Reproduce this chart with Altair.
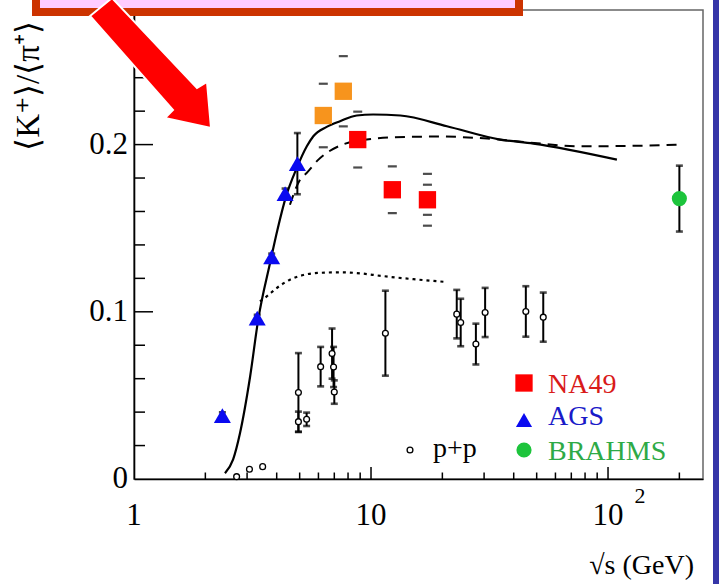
import altair as alt
import pandas as pd

# ---------------- data ----------------
# model curves
solid_x = [2.42, 2.62, 2.80, 3.09, 3.35, 3.75, 4.03, 4.38, 4.86, 5.36, 5.71, 6.50, 7.40, 8.71, 10.2, 13.3, 20.9, 35.0, 48.4, 109]
solid_y = [0.0034, 0.0118, 0.0274, 0.0613, 0.0962, 0.1292, 0.1491, 0.1690, 0.1860, 0.1990, 0.2050, 0.2106, 0.2140, 0.2174, 0.2180, 0.2174, 0.2110, 0.2030, 0.2006, 0.1910]
dash_x = [4.55, 5.02, 5.35, 6.0, 7.40, 9.6, 12.4, 19.5, 30.9, 46.9, 76.2, 146, 201]
dash_y = [0.164, 0.179, 0.183, 0.191, 0.1994, 0.203, 0.2044, 0.2048, 0.2036, 0.2012, 0.1990, 0.1994, 0.2000]
dot_x = [3.40, 3.63, 4.0, 4.55, 5.18, 6.09, 7.5, 9.0, 11.0, 15.1, 20.9]
dot_y = [0.1062, 0.1092, 0.1142, 0.1192, 0.1220, 0.1233, 0.1236, 0.1230, 0.1215, 0.1195, 0.1178]

# AGS
ags_x = [2.36, 3.31, 3.81, 4.34, 4.89]
ags_y = [0.0379, 0.0962, 0.1328, 0.1707, 0.1886]
ags_err = [0.002, 0.002, 0.002, 0.003, 0.0183]

# NA49 (red) and NA49 new energies (orange)
na49_x = [8.79, 12.3, 17.3]
na49_y = [0.203, 0.173, 0.167]
na49_err = [0.0167, 0.014, 0.0155]
na49_err2 = [0.0, 0.0, 0.009]
na49o_x = [6.29, 7.64]
na49o_y = [0.2174, 0.2319]
na49o_err = [0.019, 0.021]

# BRAHMS
brahms_x = [200]
brahms_y = [0.1677]
brahms_err = [0.0197]

# p+p
pp_x = [2.71, 3.07, 3.49, 4.94, 4.94, 5.35, 6.13, 6.85, 6.95, 7.0, 11.5, 23.0, 23.9, 27.7, 30.3, 45.0, 53.3]
pp_y = [0.0014, 0.0058, 0.0074, 0.0517, 0.0343, 0.0357, 0.0672, 0.075, 0.067, 0.052, 0.0872, 0.0986, 0.0936, 0.0807, 0.0996, 0.1002, 0.0968]
pp_err = [0, 0, 0, 0.0236, 0.006, 0.004, 0.0118, 0.015, 0.012, 0.007, 0.0254, 0.0145, 0.0142, 0.0122, 0.0147, 0.0151, 0.0147]

# ticks and labels
xtick_major = [10, 100]
xtick_minor = [2, 3, 4, 5, 6, 7, 8, 9, 20, 30, 40, 50, 60, 70, 80, 90, 200]
ytick_major = [0.1, 0.2]
ytick_minor = [0.02, 0.04, 0.06, 0.08, 0.12, 0.14, 0.16, 0.18, 0.22, 0.24, 0.26]
xlab_vals = [1, 10, 100]
xlab_text = ["1", "10", "10"]
ylab_vals = [0, 0.1, 0.2]
ylab_text = ["0", "0.1", "0.2"]

# ---------------- chart ----------------
W, H = 569, 469
FONT = "Liberation Serif"
xs = alt.Scale(type="log", domain=[1, 251.6], nice=False)
ys = alt.Scale(domain=[0, 0.2805], nice=False, zero=False)
AX = alt.Axis(labels=False, ticks=False, grid=False, domainColor="black", domainWidth=1.6)


def X(f):
    return alt.X(f"{f}:Q", scale=xs, axis=AX, title=None)


def Y(f):
    return alt.Y(f"{f}:Q", scale=ys, axis=AX, title=None)


def df(**kw):
    return pd.DataFrame(kw)


one = df(a=[0])

solid = alt.Chart(df(x=solid_x, y=solid_y)).mark_line(color="black", strokeWidth=2.2, interpolate="monotone").encode(x=X("x"), y=Y("y"))
dashed = alt.Chart(df(x=dash_x, y=dash_y)).mark_line(color="black", strokeWidth=2, strokeDash=[10, 7], interpolate="monotone").encode(x=X("x"), y=Y("y"))
dotted = alt.Chart(df(x=dot_x, y=dot_y)).mark_line(color="black", strokeWidth=2.2, strokeDash=[3, 4], interpolate="monotone").encode(x=X("x"), y=Y("y"))


def errbars(xv, yv, ev, cap=7):
    d = df(x=xv, y=yv, err=ev)
    d["lo"] = d["y"] - d["err"]
    d["hi"] = d["y"] + d["err"]
    d = d[d["err"] > 0]
    caps = pd.concat([d[["x", "lo"]].rename(columns={"lo": "c"}), d[["x", "hi"]].rename(columns={"hi": "c"})])
    bar = alt.Chart(d).mark_rule(color="black", strokeWidth=2).encode(x=X("x"), y=Y("lo"), y2="hi")
    cp = alt.Chart(caps).mark_tick(color="black", orient="horizontal", size=cap, thickness=2.6).encode(x=X("x"), y=Y("c"))
    return bar + cp


def dashes(xv, yv, ev):
    d = df(x=xv, y=yv, err=ev)
    d = d[d["err"] > 0]
    caps = pd.concat([
        pd.DataFrame({"x": d["x"], "c": d["y"] - d["err"]}),
        pd.DataFrame({"x": d["x"], "c": d["y"] + d["err"]}),
    ])
    return alt.Chart(caps).mark_tick(color="black", orient="horizontal", size=9, thickness=2.2).encode(x=X("x"), y=Y("c"))


pp_err_l = errbars(pp_x, pp_y, pp_err)
ags_err_l = errbars(ags_x, ags_y, ags_err)
br_err_l = errbars(brahms_x, brahms_y, brahms_err)
na_d1 = dashes(na49_x, na49_y, na49_err)
na_d2 = dashes(na49_x, na49_y, na49_err2)
na_d3 = dashes(na49o_x, na49o_y, na49o_err)

pp_pts = alt.Chart(df(x=pp_x, y=pp_y)).mark_point(shape="circle", size=34, fill="white", stroke="black", strokeWidth=1.3, filled=False, opacity=1, fillOpacity=1).encode(x=X("x"), y=Y("y"))
ags_pts = alt.Chart(df(x=ags_x, y=ags_y)).mark_point(shape="triangle-up", size=290, filled=True, color="#0A0AF0", opacity=1).encode(x=X("x"), y=Y("y"))
na_pts = alt.Chart(df(x=na49_x, y=na49_y)).mark_point(shape="square", size=300, filled=True, color="#FF0000", opacity=1).encode(x=X("x"), y=Y("y"))
nao_pts = alt.Chart(df(x=na49o_x, y=na49o_y)).mark_point(shape="square", size=300, filled=True, color="#F7941D", opacity=1).encode(x=X("x"), y=Y("y"))
br_pts = alt.Chart(df(x=brahms_x, y=brahms_y)).mark_point(shape="circle", size=230, filled=True, color="#1DC43C", opacity=1).encode(x=X("x"), y=Y("y"))

# inward ticks
xt_major = alt.Chart(df(v=xtick_major)).mark_rule(color="black", strokeWidth=1.5).encode(x=X("v"), y=alt.value(H), y2=alt.value(H - 12))
xt_minor = alt.Chart(df(v=xtick_minor)).mark_rule(color="black", strokeWidth=1.5).encode(x=X("v"), y=alt.value(H), y2=alt.value(H - 6.5))
yt_major = alt.Chart(df(v=ytick_major)).mark_rule(color="black", strokeWidth=1.5).encode(y=Y("v"), x=alt.value(0), x2=alt.value(19))
yt_minor = alt.Chart(df(v=ytick_minor)).mark_rule(color="black", strokeWidth=1.5).encode(y=Y("v"), x=alt.value(0), x2=alt.value(11))

# tick labels
ylabs = alt.Chart(df(v=ylab_vals, t=ylab_text)).mark_text(font=FONT, fontSize=31, align="right", baseline="middle", color="black").encode(y=Y("v"), x=alt.value(-6), text="t:N")
xlabs = alt.Chart(df(v=xlab_vals, t=xlab_text)).mark_text(font=FONT, fontSize=31, align="center", baseline="alphabetic", color="black").encode(x=X("v"), y=alt.value(515), text="t:N")
xsup = alt.Chart(df(v=[100], t=["2"])).mark_text(font=FONT, fontSize=22, align="center", baseline="alphabetic", color="black", dx=32).encode(x=X("v"), y=alt.value(493), text="t:N")

# titles
xtitle = alt.Chart(one).mark_text(text="√s (GeV)", font=FONT, fontSize=28, align="right", baseline="alphabetic", color="black").encode(x=alt.value(560), y=alt.value(564))
ytitle = alt.Chart(one).mark_text(text="⟨K⁺⟩/⟨π⁺⟩", font=FONT, fontSize=33, angle=270, align="center", baseline="middle", color="black").encode(x=alt.value(-105), y=alt.value(76))

# legend
leg_sym = [
    alt.Chart(one).mark_point(shape="square", size=300, filled=True, color="#FF0000", opacity=1).encode(x=alt.value(390), y=alt.value(373)),
    alt.Chart(one).mark_point(shape="triangle-up", size=260, filled=True, color="#0A0AF0", opacity=1).encode(x=alt.value(390), y=alt.value(410)),
    alt.Chart(one).mark_point(shape="circle", size=230, filled=True, color="#1DC43C", opacity=1).encode(x=alt.value(390), y=alt.value(440)),
    alt.Chart(one).mark_point(shape="circle", size=34, fill="white", stroke="black", strokeWidth=1.3, opacity=1, fillOpacity=1).encode(x=alt.value(276), y=alt.value(440)),
]
leg_txt = [
    alt.Chart(one).mark_text(text="NA49", font=FONT, fontSize=28, align="left", baseline="alphabetic", color="#D91A1A").encode(x=alt.value(414), y=alt.value(383)),
    alt.Chart(one).mark_text(text="AGS", font=FONT, fontSize=28, align="left", baseline="alphabetic", color="#1A1AC8").encode(x=alt.value(414), y=alt.value(415)),
    alt.Chart(one).mark_text(text="BRAHMS", font=FONT, fontSize=28, align="left", baseline="alphabetic", color="#2EAA46").encode(x=alt.value(414), y=alt.value(450)),
    alt.Chart(one).mark_text(text="p+p", font=FONT, fontSize=28, align="left", baseline="alphabetic", color="black").encode(x=alt.value(299), y=alt.value(447)),
]

# decorations: pink banner, red arrow, blue side strip
banner = alt.Chart(one).mark_rect(fill="#FFCCFF", stroke="#CC3300", strokeWidth=8).encode(
    x=alt.value(-98), x2=alt.value(385), y=alt.value(-40), y2=alt.value(2))
ARROW = "M-44,6 L39,100 L31,108 L77,118 L73,72 L63,78 L-22,-12 Z"
arrow = alt.Chart(one).mark_point(shape=ARROW, size=4, filled=True, fill="#FF0000", stroke="white", strokeWidth=2, opacity=1, fillOpacity=1).encode(
    x=alt.value(0), y=alt.value(0))
strip = alt.Chart(one).mark_rect(fill="#3535A8").encode(x=alt.value(579), x2=alt.value(590), y=alt.value(-20), y2=alt.value(600))

chart = alt.layer(
    solid, dashed, dotted,
    xt_major, xt_minor, yt_major, yt_minor,
    pp_err_l, ags_err_l, br_err_l, na_d1, na_d2, na_d3,
    pp_pts, ags_pts, na_pts, nao_pts, br_pts,
    ylabs, xlabs, xsup, xtitle, ytitle,
    *leg_sym, *leg_txt,
    banner, arrow, strip,
).properties(
    width=W, height=H,
    autosize=alt.AutoSizeParams(type="none"),
    padding={"left": 134, "top": 10, "right": 16, "bottom": 105},
    background="white",
).configure_view(stroke="#666666", strokeWidth=1.5)

chart.save("out.html", embed_options={"renderer": "svg", "actions": False})
